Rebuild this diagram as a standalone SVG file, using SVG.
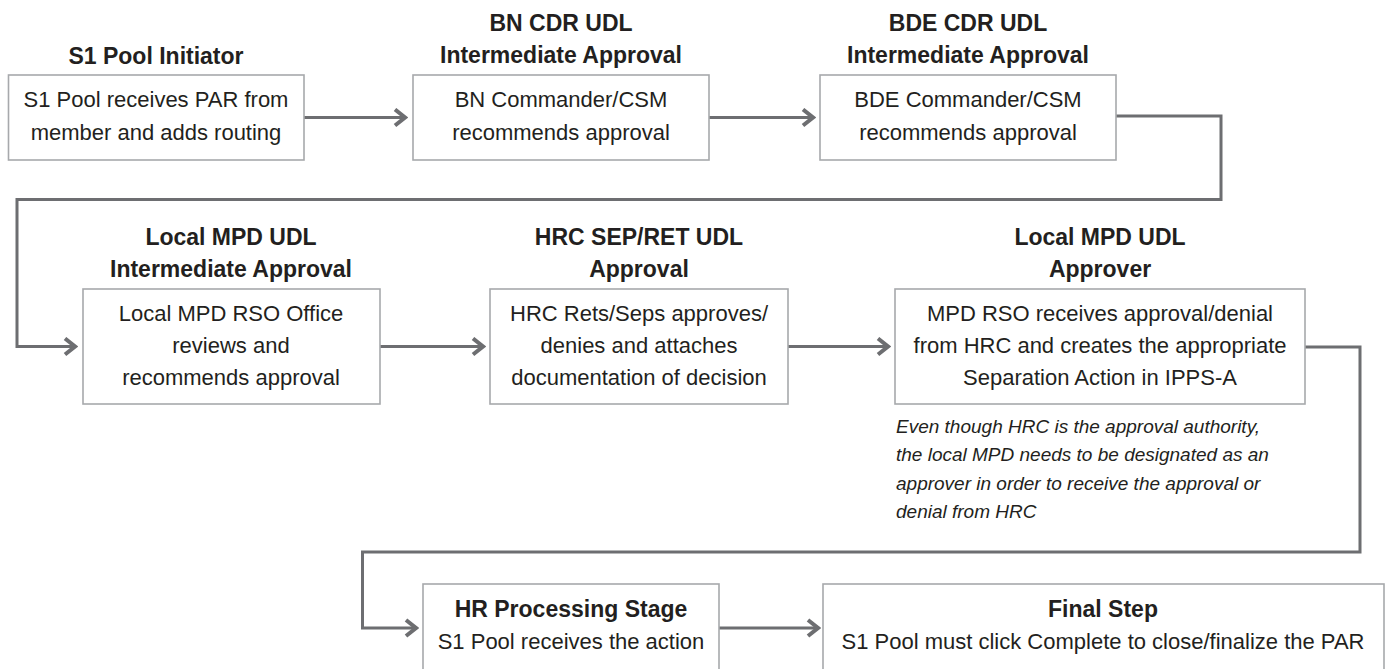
<svg xmlns="http://www.w3.org/2000/svg" width="1387" height="669" viewBox="0 0 1387 669">
<style>
.box{fill:#fff;stroke:#a7a9ac;stroke-width:1.6}
.t{font-family:"Liberation Sans",Arial,sans-serif;font-size:23px;font-weight:bold;fill:#231f20;text-anchor:middle}
.b{font-family:"Liberation Sans",Arial,sans-serif;font-size:22px;fill:#231f20;text-anchor:middle}
.n{font-family:"Liberation Sans",Arial,sans-serif;font-size:19px;font-style:italic;fill:#231f20}
.c{fill:none;stroke:#6d6e71;stroke-width:3;marker-end:url(#ah)}
</style>
<defs>
<marker id="ah" markerUnits="userSpaceOnUse" viewBox="0 0 16 20" markerWidth="16" markerHeight="20" refX="13" refY="10" orient="auto">
<path d="M3,2 L13,10 L3,18" fill="none" stroke="#6d6e71" stroke-width="4"/>
</marker>
</defs>
<rect width="1387" height="669" fill="#fff"/>
<g id="connectors">
<path class="c" d="M304,117.5 H405"/>
<path class="c" d="M709,117.5 H813"/>
<path class="c" d="M1116,116 H1221 V199.5 H17 V346.5 H75"/>
<path class="c" d="M380,346.5 H483"/>
<path class="c" d="M788,346.5 H888"/>
<path class="c" d="M1305,347 H1360 V552 H362.5 V628 H416"/>
<path class="c" d="M719,628 H818"/>
</g>
<g id="n1">
<text class="t" x="156" y="64">S1 Pool Initiator</text>
<rect class="box" x="8.5" y="75" width="295.5" height="85"/>
<text class="b" x="156" y="107">S1 Pool receives PAR from</text>
<text class="b" x="156" y="140">member and adds routing</text>
</g>
<g id="n2">
<text class="t" x="561" y="31">BN CDR UDL</text>
<text class="t" x="561" y="63">Intermediate Approval</text>
<rect class="box" x="413" y="75" width="296" height="85"/>
<text class="b" x="561" y="107">BN Commander/CSM</text>
<text class="b" x="561" y="140">recommends approval</text>
</g>
<g id="n3">
<text class="t" x="968" y="31">BDE CDR UDL</text>
<text class="t" x="968" y="63">Intermediate Approval</text>
<rect class="box" x="820" y="75" width="296" height="85"/>
<text class="b" x="968" y="107">BDE Commander/CSM</text>
<text class="b" x="968" y="140">recommends approval</text>
</g>
<g id="n4">
<text class="t" x="231" y="245">Local MPD UDL</text>
<text class="t" x="231" y="277">Intermediate Approval</text>
<rect class="box" x="83" y="289" width="297" height="115"/>
<text class="b" x="231" y="321">Local MPD RSO Office</text>
<text class="b" x="231" y="353">reviews and</text>
<text class="b" x="231" y="385">recommends approval</text>
</g>
<g id="n5">
<text class="t" x="639" y="245">HRC SEP/RET UDL</text>
<text class="t" x="639" y="277">Approval</text>
<rect class="box" x="490" y="289" width="298" height="115"/>
<text class="b" x="639" y="321">HRC Rets/Seps approves/</text>
<text class="b" x="639" y="353">denies and attaches</text>
<text class="b" x="639" y="385">documentation of decision</text>
</g>
<g id="n6">
<text class="t" x="1100" y="245">Local MPD UDL</text>
<text class="t" x="1100" y="277">Approver</text>
<rect class="box" x="895" y="289" width="410" height="115"/>
<text class="b" x="1100" y="321">MPD RSO receives approval/denial</text>
<text class="b" x="1100" y="353">from HRC and creates the appropriate</text>
<text class="b" x="1100" y="385">Separation Action in IPPS-A</text>
<text class="n" x="896" y="433">Even though HRC is the approval authority,</text>
<text class="n" x="896" y="461">the local MPD needs to be designated as an</text>
<text class="n" x="896" y="490">approver in order to receive the approval or</text>
<text class="n" x="896" y="518">denial from HRC</text>
</g>
<g id="n7">
<rect class="box" x="423" y="584" width="296" height="90"/>
<text class="t" x="571" y="617">HR Processing Stage</text>
<text class="b" x="571" y="649">S1 Pool receives the action</text>
</g>
<g id="n8">
<rect class="box" x="823" y="584" width="561" height="90"/>
<text class="t" x="1103" y="617">Final Step</text>
<text class="b" x="1103" y="649">S1 Pool must click Complete to close/finalize the PAR</text>
</g>
</svg>
